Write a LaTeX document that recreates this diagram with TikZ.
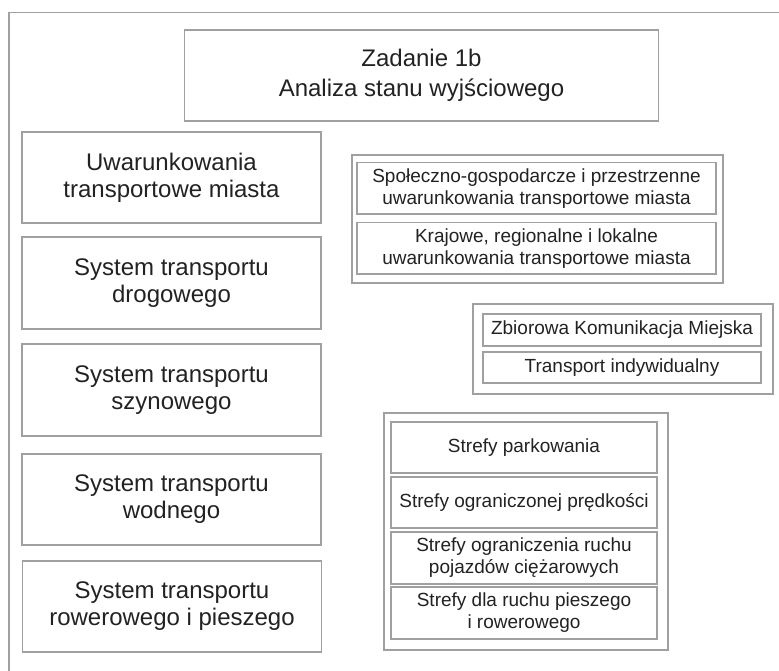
\documentclass[tikz,border=0pt]{standalone}
\usepackage{fontspec}
\setmainfont{Liberation Sans}
\definecolor{lineg}{HTML}{A0A0A0}
\definecolor{txt}{HTML}{222222}
\begin{document}
\begin{tikzpicture}[x=1pt,y=-1pt,
  boxbase/.style={draw=lineg,line width=1.3pt,rectangle,inner sep=0pt,align=center,text=txt},
  bigbox/.style={boxbase,font=\fontsize{24}{27}\selectfont,minimum width=299pt},
  titlebox/.style={boxbase,font=\fontsize{24}{30}\selectfont},
  smallbox/.style={boxbase,font=\fontsize{19}{22}\selectfont},
  groupbox/.style={boxbase}
]
\useasboundingbox (0,0) rectangle (779,670);
\fill[white] (0,0) rectangle (779,670);
% outer frame (only top and left visible)
\coordinate (fbl) at (9,672);
\coordinate (ftl) at (9,12.5);
\coordinate (ftr) at (781,12.5);
\draw[lineg,line width=1.3pt] (fbl) -- (ftl) -- (ftr);

% title
\node[titlebox,minimum width=474pt,minimum height=91pt] (title) at (421.5,75.5) {Zadanie 1b\\Analiza stanu wyjściowego};

% left column
\node[bigbox,minimum height=91pt] (l1) at (171.5,177.5) {Uwarunkowania\\transportowe miasta};
\node[bigbox,minimum height=92pt] (l2) at (171.5,283) {System transportu\\drogowego};
\node[bigbox,minimum height=92pt] (l3) at (171.5,390) {System transportu\\szynowego};
\node[bigbox,minimum height=91pt] (l4) at (171.5,499.5) {System transportu\\wodnego};
\node[bigbox,minimum height=91pt] (l5) at (172,606.5) {System transportu\\rowerowego i pieszego};

% group 1
\node[groupbox,minimum width=371pt,minimum height=128pt] (g1) at (537.5,219) {};
\node[smallbox,minimum width=359pt,minimum height=51.3pt] (g1a) at (536.5,188.3) {Społeczno-gospodarcze i przestrzenne\\uwarunkowania transportowe miasta};
\node[smallbox,minimum width=359pt,minimum height=51.3pt] (g1b) at (536.5,248.3) {Krajowe, regionalne i lokalne\\uwarunkowania transportowe miasta};

% group 2
\node[groupbox,minimum width=300pt,minimum height=90pt] (g2) at (623,349) {};
\node[smallbox,minimum width=278pt,minimum height=32pt] (g2a) at (622,330) {Zbiorowa Komunikacja Miejska};
\node[smallbox,minimum width=278pt,minimum height=31pt] (g2b) at (622,367.5) {Transport indywidualny};

% group 3
\node[groupbox,minimum width=284pt,minimum height=237pt] (g3) at (526,531.5) {};
\node[smallbox,minimum width=266pt,minimum height=51pt] (g3a) at (524,447.5) {Strefy parkowania};
\node[smallbox,minimum width=266pt,minimum height=51pt] (g3b) at (524,502.5) {Strefy ograniczonej prędkości};
\node[smallbox,minimum width=266pt,minimum height=52pt] (g3c) at (524,558) {Strefy ograniczenia ruchu\\pojazdów ciężarowych};
\node[smallbox,minimum width=266pt,minimum height=52pt] (g3d) at (524,613) {Strefy dla ruchu pieszego\\i rowerowego};
\end{tikzpicture}
\end{document}
